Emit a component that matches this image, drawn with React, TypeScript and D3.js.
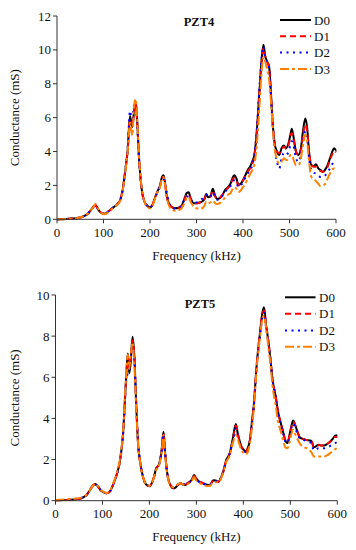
import React from "react";
import * as d3 from "d3";

const legendLabels = ["D0", "D1", "D2", "D3"];
const xTicks = [0, 100, 200, 300, 400, 500, 600];
const yTicks4 = [0, 2, 4, 6, 8, 10, 12];
const yTicks5 = [0, 2, 4, 6, 8, 10];

const freq4 = [
  0, 20, 40, 55, 65, 73, 80, 83, 88, 95,
  103, 110, 120, 130, 136, 141, 146, 152, 157, 160,
  162, 165, 169, 173, 176, 182, 188, 194, 200, 206,
  211, 216, 221, 226, 229, 232, 236, 241, 248, 255,
  262, 268, 274, 279, 283, 288, 294, 300, 306, 312,
  317, 321, 325, 330, 335, 340, 345, 350, 356, 362,
  368, 373, 377, 381, 386, 390, 395, 400, 405, 410,
  415, 420, 425, 430, 435, 440, 444, 448, 452, 456,
  460, 464, 468, 473, 478, 483, 488, 493, 498, 502,
  505, 509, 514, 519, 524, 529, 534, 538, 542, 547,
  552, 557, 562, 567, 572, 577, 582, 587, 592, 596,
  600,
];
const pzt4D0 = [
  0, 0.02, 0.06, 0.15, 0.3, 0.55, 0.8, 0.85, 0.6, 0.38,
  0.33, 0.45, 0.68, 0.9, 1.15, 1.7, 2.7, 4.1, 6.1, 5.6,
  5.45, 6.2, 7.0, 5.5, 3.8, 1.8, 1.05, 0.8, 0.7, 0.9,
  1.3, 1.65, 1.95, 2.5, 2.6, 2.2, 1.4, 0.9, 0.7, 0.65,
  0.68, 0.8, 1.2, 1.55, 1.6, 1.2, 0.95, 0.95, 0.98, 1.05,
  1.2, 1.5, 1.3, 1.35, 1.8, 1.4, 1.2, 1.25, 1.45, 1.75,
  1.9, 2.1, 2.4, 2.6, 2.4, 2.05, 2.1, 2.3, 2.6, 2.9,
  3.1, 3.4, 3.9, 5.3, 7.4, 9.4, 10.3, 9.6, 9.3, 9.05,
  7.5, 5.6, 4.5, 4.0, 3.8, 4.2, 4.35, 4.2, 4.5, 5.0,
  5.35, 4.8, 4.0, 3.8, 4.1, 5.2, 5.95, 5.4, 4.0, 3.2,
  3.15, 3.25, 3.0, 2.9, 2.8, 2.95, 3.2, 3.6, 4.0, 4.2,
  4.05,
];
const pzt4D1 = [
  0, 0.02, 0.06, 0.15, 0.3, 0.55, 0.78, 0.8, 0.6, 0.38,
  0.33, 0.45, 0.68, 0.9, 1.15, 1.7, 2.7, 4.1, 5.9, 5.8,
  5.5, 6.1, 6.9, 5.5, 3.8, 1.8, 1.05, 0.8, 0.7, 0.9,
  1.3, 1.6, 1.9, 2.4, 2.5, 2.15, 1.4, 0.9, 0.7, 0.65,
  0.68, 0.8, 1.15, 1.45, 1.45, 1.15, 0.95, 0.95, 0.98, 1.05,
  1.2, 1.45, 1.3, 1.35, 1.7, 1.35, 1.2, 1.25, 1.45, 1.7,
  1.85, 2.05, 2.3, 2.45, 2.3, 2.0, 2.1, 2.3, 2.55, 2.8,
  3.0, 3.3, 3.8, 5.3, 7.4, 9.3, 10.1, 9.6, 9.3, 9.0,
  7.5, 5.6, 4.5, 4.0, 3.9, 4.1, 4.3, 4.15, 4.4, 4.9,
  5.1, 4.7, 4.0, 3.8, 4.0, 5.0, 5.6, 5.2, 4.0, 3.2,
  3.1, 3.1, 2.95, 2.85, 2.8, 2.9, 3.1, 3.5, 3.85, 4.05,
  3.95,
];
const pzt4D2 = [
  0, 0.02, 0.07, 0.15, 0.3, 0.55, 0.75, 0.8, 0.62, 0.38,
  0.33, 0.45, 0.68, 0.9, 1.15, 1.7, 2.7, 4.2, 6.4, 5.9,
  5.7, 6.6, 6.8, 5.4, 3.8, 1.8, 1.05, 0.8, 0.7, 0.9,
  1.3, 1.6, 1.9, 2.4, 2.45, 2.1, 1.6, 0.95, 0.68, 0.62,
  0.68, 0.85, 1.15, 1.35, 1.35, 1.1, 0.95, 1.0, 1.05, 1.2,
  1.25, 1.45, 1.3, 1.35, 1.6, 1.3, 1.15, 1.2, 1.4, 1.65,
  1.8, 1.95, 2.15, 2.3, 2.15, 1.9, 2.0, 2.2, 2.45, 2.7,
  2.9, 3.2, 3.9, 5.4, 7.6, 9.5, 10.2, 9.5, 9.1, 8.9,
  7.3, 5.5, 4.2, 3.4, 3.0, 3.6, 3.9, 3.8, 4.0, 4.4,
  4.6, 4.3, 3.6, 3.4, 3.7, 4.6, 5.2, 4.8, 3.6, 2.9,
  2.75, 2.7, 2.55, 2.5, 2.5, 2.6, 2.8, 3.0, 3.25, 3.4,
  3.4,
];
const pzt4D3 = [
  0, 0.02, 0.06, 0.15, 0.3, 0.55, 0.8, 0.9, 0.65, 0.38,
  0.3, 0.42, 0.65, 0.88, 1.1, 1.65, 2.6, 4.0, 5.7, 5.2,
  4.95, 6.4, 7.1, 5.6, 3.9, 1.9, 1.05, 0.75, 0.65, 0.85,
  1.25, 1.6, 1.85, 2.4, 2.5, 2.1, 1.3, 0.8, 0.55, 0.5,
  0.55, 0.65, 0.95, 1.25, 1.3, 1.0, 0.75, 0.65, 0.62, 0.65,
  0.8, 1.05, 0.95, 1.0, 1.1, 0.95, 0.9, 0.95, 1.1, 1.3,
  1.45, 1.55, 1.75, 1.9, 1.8, 1.6, 1.7, 1.9, 2.1, 2.4,
  2.65, 2.9, 3.3, 4.5, 6.5, 8.7, 9.6, 9.3, 8.8, 8.3,
  7.0, 5.4, 4.2, 3.5, 3.3, 3.4, 3.6, 3.5, 3.6, 3.8,
  3.8, 3.5, 3.2, 3.2, 3.5, 4.4, 5.0, 4.6, 3.4, 2.5,
  2.4, 2.25, 2.1, 1.95, 2.0, 2.1, 2.4, 2.7, 2.95, 3.0,
  2.95,
];

const freq5 = [
  0, 20, 40, 55, 65, 73, 80, 85, 90, 97,
  103, 109, 116, 123, 130, 137, 144, 150, 154, 157,
  160, 164, 168, 172, 176, 180, 187, 194, 200, 205,
  209, 214, 220, 226, 230, 233, 237, 242, 251, 256,
  261, 266, 271, 276, 281, 286, 291, 295, 299, 305,
  314, 322, 329, 336, 341, 347, 352, 357, 364, 371,
  377, 384, 388, 396, 402, 406, 410, 414, 418, 422,
  428, 435, 441, 444, 448, 453, 458, 462, 469, 474,
  478, 484, 489, 494, 499, 503, 506, 510, 516, 521,
  528, 535, 541, 545, 550, 555, 560, 566, 572, 578,
  584, 590, 595, 600,
];
const pzt5D0 = [
  0.02, 0.03, 0.06, 0.12, 0.25, 0.5, 0.75, 0.81, 0.7, 0.5,
  0.4, 0.36, 0.45, 0.8, 1.25, 1.9, 3.3, 5.8, 7.15, 6.2,
  6.7, 7.97, 7.0, 4.6, 2.7, 1.9, 1.1, 0.76, 0.7, 0.85,
  1.1, 1.55, 1.75, 2.45, 3.35, 2.45, 1.5, 0.9, 0.6, 0.65,
  0.76, 0.85, 0.78, 0.76, 0.85, 0.92, 1.05, 1.25, 1.1, 0.95,
  0.85, 0.78, 0.76, 1.0, 0.98, 0.92, 1.1, 1.4, 2.0, 2.3,
  2.95, 3.73, 3.28, 2.63, 2.45, 2.38, 2.6, 2.95, 3.8, 4.6,
  6.5, 8.1, 9.2, 9.4, 8.6, 7.8, 6.8, 5.9, 5.05, 4.3,
  3.92, 3.4, 2.95, 2.8, 3.28, 3.7, 3.9, 3.7, 3.3, 3.05,
  3.0, 2.95, 2.93, 2.9, 2.6, 2.65, 2.72, 2.68, 2.68, 2.75,
  2.85, 3.0, 3.15, 3.18,
];
const pzt5D1 = [
  0.02, 0.03, 0.06, 0.12, 0.25, 0.5, 0.75, 0.8, 0.7, 0.5,
  0.4, 0.36, 0.45, 0.8, 1.25, 1.9, 3.3, 5.8, 7.0, 6.4,
  6.8, 7.8, 6.9, 4.6, 2.7, 1.9, 1.1, 0.76, 0.72, 0.85,
  1.1, 1.55, 1.75, 2.45, 3.3, 2.45, 1.5, 0.9, 0.62, 0.68,
  0.78, 0.85, 0.8, 0.78, 0.85, 0.92, 1.05, 1.2, 1.1, 0.95,
  0.85, 0.78, 0.78, 1.0, 0.98, 0.92, 1.1, 1.4, 2.0, 2.3,
  2.9, 3.65, 3.25, 2.6, 2.45, 2.38, 2.6, 2.95, 3.8, 4.6,
  6.5, 8.1, 9.1, 9.25, 8.6, 7.8, 6.8, 5.9, 5.05, 4.3,
  3.9, 3.4, 2.95, 2.85, 3.25, 3.65, 3.85, 3.7, 3.3, 3.05,
  3.0, 2.95, 2.93, 2.9, 2.6, 2.65, 2.7, 2.68, 2.68, 2.75,
  2.85, 2.95, 3.1, 3.1,
];
const pzt5D2 = [
  0.03, 0.04, 0.08, 0.13, 0.25, 0.5, 0.72, 0.78, 0.7, 0.5,
  0.4, 0.36, 0.45, 0.8, 1.25, 1.9, 3.3, 5.7, 6.2, 6.3,
  6.9, 7.6, 6.8, 4.6, 2.8, 1.95, 1.1, 0.76, 0.72, 0.85,
  1.1, 1.5, 1.7, 2.4, 3.25, 2.4, 1.5, 0.9, 0.65, 0.7,
  0.8, 0.85, 0.82, 0.8, 0.88, 0.92, 1.0, 1.15, 1.05, 0.92,
  0.82, 0.78, 0.78, 0.95, 0.95, 0.92, 1.1, 1.4, 2.0, 2.3,
  2.85, 3.5, 3.15, 2.55, 2.4, 2.35, 2.55, 2.9, 3.7, 4.5,
  6.4, 7.9, 9.0, 9.15, 8.5, 7.7, 6.8, 5.9, 5.0, 4.2,
  3.85, 3.35, 2.9, 2.8, 3.2, 3.6, 3.75, 3.55, 3.2, 3.0,
  2.95, 2.9, 2.85, 2.8, 2.45, 2.5, 2.55, 2.55, 2.55, 2.6,
  2.65, 2.75, 2.8, 2.85,
];
const pzt5D3 = [
  0.04, 0.06, 0.1, 0.15, 0.28, 0.5, 0.75, 0.82, 0.72, 0.52,
  0.42, 0.38, 0.48, 0.85, 1.3, 2.0, 3.4, 5.9, 7.1, 6.4,
  7.0, 7.7, 6.6, 4.4, 2.7, 1.9, 1.1, 0.78, 0.72, 0.85,
  1.1, 1.5, 1.7, 2.35, 3.2, 2.35, 1.45, 0.88, 0.65, 0.7,
  0.8, 0.85, 0.8, 0.75, 0.8, 0.88, 1.0, 1.15, 1.0, 0.88,
  0.78, 0.72, 0.72, 0.9, 0.9, 0.88, 1.05, 1.35, 1.9, 2.2,
  2.75, 3.2, 3.0, 2.45, 2.3, 2.25, 2.4, 2.8, 3.5, 4.4,
  6.3, 7.9, 8.9, 9.0, 8.5, 7.5, 6.6, 5.6, 4.6, 3.8,
  3.5, 3.0, 2.6, 2.55, 2.9, 3.3, 3.45, 3.25, 2.95, 2.75,
  2.6, 2.55, 2.45, 2.35, 2.15, 2.15, 2.15, 2.15, 2.15, 2.2,
  2.3, 2.4, 2.5, 2.55,
];

const STYLES = [
  { color: "#000000", dash: undefined as string | undefined, width: 2 },
  { color: "#ff0000", dash: "6,4", width: 2 },
  { color: "#0000ff", dash: "2,4.5", width: 2 },
  { color: "#ff8000", dash: "9,3,3,3", width: 2 },
];

const FONT = "'Liberation Serif', 'Times New Roman', serif";
const AXIS = "#333";

type PanelProps = {
  freq: number[];
  series: number[][];
  yTicks: number[];
  x0: number;
  x1: number;
  yTop: number;
  yBottom: number;
  title: string;
  titleX: number;
  titleY: number;
  legX1: number;
  legX2: number;
  legTextX: number;
  legYs: number[];
  xLabelY: number;
  xTitleY: number;
  yTitleX: number;
};

function Panel(p: PanelProps) {
  const yMax = p.yTicks[p.yTicks.length - 1];
  const x = d3.scaleLinear().domain([0, 600]).range([p.x0, p.x1]);
  const y = d3.scaleLinear().domain([0, yMax]).range([p.yBottom, p.yTop]);
  const line = d3
    .line<number>()
    .x((_, i) => x(p.freq[i]))
    .y((d) => y(d))
    .curve(d3.curveMonotoneX);
  return (
    <g>
      {p.series.map((s, k) => (
        <path
          key={k}
          d={line(s) || ""}
          fill="none"
          stroke={STYLES[k].color}
          strokeWidth={STYLES[k].width}
          strokeDasharray={STYLES[k].dash}
          strokeLinejoin="round"
        />
      ))}
      <line x1={p.x0} x2={p.x0} y1={y(0)} y2={y(yMax)} stroke={AXIS} strokeWidth={1} />
      <line x1={p.x0} x2={p.x1} y1={y(0)} y2={y(0)} stroke={AXIS} strokeWidth={1} />
      {p.yTicks.map((t) => (
        <g key={"y" + t}>
          <line x1={p.x0 - 4} x2={p.x0} y1={y(t)} y2={y(t)} stroke={AXIS} strokeWidth={1} />
          <text
            x={p.x0 - 6}
            y={y(t)}
            dy="0.35em"
            textAnchor="end"
            fontFamily={FONT}
            fontSize={13}
            fill="#111"
          >
            {t}
          </text>
        </g>
      ))}
      {xTicks.map((t) => (
        <g key={"x" + t}>
          <line x1={x(t)} x2={x(t)} y1={y(0)} y2={y(0) + 4} stroke={AXIS} strokeWidth={1} />
          <text
            x={x(t)}
            y={p.xLabelY}
            textAnchor="middle"
            fontFamily={FONT}
            fontSize={13}
            fill="#111"
          >
            {t}
          </text>
        </g>
      ))}
      <text
        x={(p.x0 + p.x1) / 2}
        y={p.xTitleY}
        textAnchor="middle"
        fontFamily={FONT}
        fontSize={13}
        fill="#111"
      >
        Frequency (kHz)
      </text>
      <text
        transform={`translate(${p.yTitleX},${(p.yTop + p.yBottom) / 2}) rotate(-90)`}
        textAnchor="middle"
        fontFamily={FONT}
        fontSize={13}
        fill="#111"
      >
        Conductance (mS)
      </text>
      <text
        x={p.titleX}
        y={p.titleY}
        textAnchor="middle"
        fontFamily={FONT}
        fontSize={12.5}
        fontWeight="bold"
        fill="#111"
      >
        {p.title}
      </text>
      {legendLabels.map((lab, k) => (
        <g key={lab}>
          <line
            x1={p.legX1}
            x2={p.legX2}
            y1={p.legYs[k]}
            y2={p.legYs[k]}
            stroke={STYLES[k].color}
            strokeWidth={STYLES[k].width}
            strokeDasharray={STYLES[k].dash}
          />
          <text
            x={p.legTextX}
            y={p.legYs[k]}
            dy="0.35em"
            fontFamily={FONT}
            fontSize={13}
            fill="#111"
          >
            {lab}
          </text>
        </g>
      ))}
    </g>
  );
}

export default function App() {
  return (
    <svg
      width={356}
      height={550}
      style={{ position: "absolute", left: 0, top: 0, background: "#fff" }}
    >
      <Panel
        freq={freq4}
        series={[pzt4D0, pzt4D1, pzt4D2, pzt4D3]}
        yTicks={yTicks4}
        x0={57}
        x1={336}
        yTop={16}
        yBottom={219.3}
        title="PZT4"
        titleX={199}
        titleY={26}
        legX1={280}
        legX2={311}
        legTextX={314}
        legYs={[20, 36.3, 52.5, 69]}
        xLabelY={236.5}
        xTitleY={259.5}
        yTitleX={19}
      />
      <Panel
        freq={freq5}
        series={[pzt5D0, pzt5D1, pzt5D2, pzt5D3]}
        yTicks={yTicks5}
        x0={55.5}
        x1={337.3}
        yTop={295}
        yBottom={500.7}
        title="PZT5"
        titleX={200}
        titleY={307.5}
        legX1={285}
        legX2={315.5}
        legTextX={319}
        legYs={[297.3, 313.7, 330.5, 346.7]}
        xLabelY={517.5}
        xTitleY={540.5}
        yTitleX={19}
      />
    </svg>
  );
}
